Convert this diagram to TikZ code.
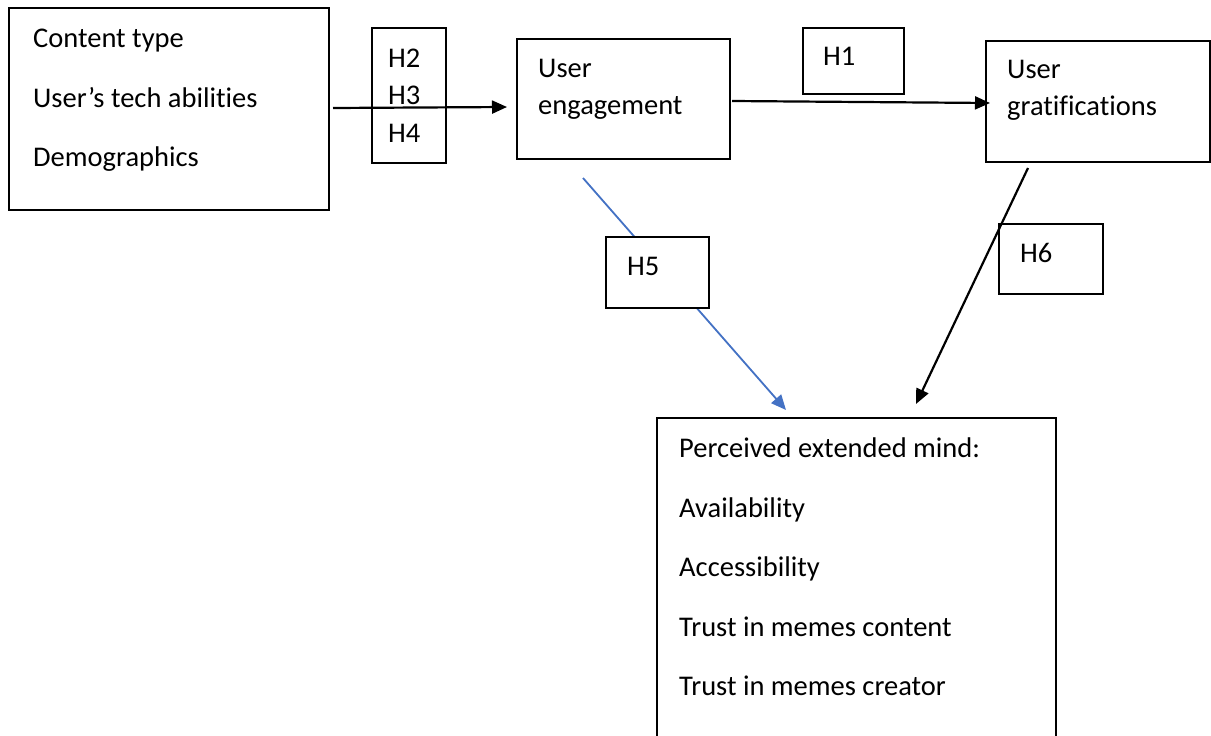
\documentclass[tikz,border=0pt]{standalone}
\usepackage{fontspec}
\setmainfont{Carlito}[Ligatures=NoCommon]
\usetikzlibrary{arrows.meta}
\begin{document}
\begin{tikzpicture}[x=1pt,y=-1pt,
  box/.style={draw=black,line width=1.8pt,inner sep=0pt,anchor=north west},
  hbox/.style={box,fill=white},
  txt/.style={anchor=base west,inner sep=0pt,font=\fontsize{28.5}{32}\selectfont},
  conn/.style={line width=2.2pt,-{Triangle[length=15pt,width=13pt]}}
]
\useasboundingbox (0,0) rectangle (1211,736);
\definecolor{lnkblue}{RGB}{68,114,196}
% main boxes
\node[box,minimum width=320pt,minimum height=202pt] (src) at (8,7) {};
\node[box,minimum width=74pt,minimum height=135pt] (hgrp) at (371,27) {};
\node[box,minimum width=213pt,minimum height=120pt] (eng) at (516,38) {};
\node[box,minimum width=101pt,minimum height=66pt] (hone) at (802,27) {};
\node[box,minimum width=224pt,minimum height=121pt] (grat) at (985,40) {};
% bottom box (runs past the lower edge)
\draw[line width=1.8pt] (657,745) -- (657,418) -- (1056,418) -- (1056,745);
\coordinate (pem) at (657,418);
% texts
\node[txt] (t1) at (33,47) {Content type};
\node[txt] (t2) at (33,107) {User’s tech abilities};
\node[txt] (t3) at (33,166) {Demographics};
\node[txt] (h2) at (388,67) {H2};
\node[txt] (h3) at (388,104) {H3};
\node[txt] (h4) at (388,142) {H4};
\node[txt] (e1) at (538,77) {User};
\node[txt] (e2) at (538,114) {engagement};
\node[txt] (h1) at (823,65) {H1};
\node[txt] (g1) at (1007,78) {User};
\node[txt] (g2) at (1007,115) {gratifications};
\node[txt] (p1) at (679,457) {Perceived extended mind:};
\node[txt] (p2) at (679,517) {Availability};
\node[txt] (p3) at (679,576) {Accessibility};
\node[txt] (p4) at (679,636) {Trust in memes content};
\node[txt] (p5) at (679,695) {Trust in memes creator};
% connector ends
\coordinate (a1s) at (333,108);
\coordinate (a1e) at (507,107);
\coordinate (a2s) at (732,101);
\coordinate (a2e) at (990,103);
\coordinate (a3s) at (583,178);
\coordinate (a3e) at (786,410);
\coordinate (a4s) at (1028,168);
\coordinate (a4e) at (916,404);
% connectors
\draw[conn] (a1s) -- (a1e);
\draw[conn] (a2s) -- (a2e);
\draw[conn,draw=lnkblue,fill=lnkblue,line width=1.8pt] (a3s) -- (a3e);
% H5 box over the blue line
\node[hbox,minimum width=103pt,minimum height=71pt] (hfive) at (605,236) {};
\node[txt] (h5) at (627,275) {H5};
\node[hbox,minimum width=104pt,minimum height=70pt] (hsix) at (998,223) {};
\node[txt] (h6) at (1020,262) {H6};
\draw[conn] (a4s) -- (a4e);
\end{tikzpicture}
\end{document}
